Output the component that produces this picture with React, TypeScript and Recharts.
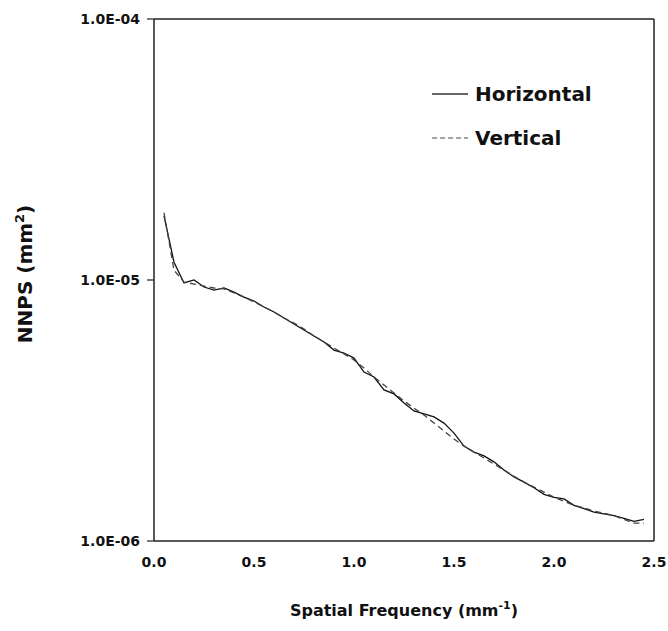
import {
  CartesianGrid,
  Label,
  Line,
  LineChart,
  ReferenceLine,
  XAxis,
  YAxis,
} from "recharts";

// spatial frequency (mm^-1)
const freq = [
  0.05, 0.1, 0.15, 0.2, 0.25, 0.3, 0.35, 0.4, 0.45, 0.5, 0.55, 0.6, 0.65, 0.7,
  0.75, 0.8, 0.85, 0.9, 0.95, 1.0, 1.05, 1.1, 1.15, 1.2, 1.25, 1.3, 1.35, 1.4,
  1.45, 1.5, 1.55, 1.6, 1.65, 1.7, 1.75, 1.8, 1.85, 1.9, 1.95, 2.0, 2.05, 2.1,
  2.15, 2.2, 2.25, 2.3, 2.35, 2.4, 2.45,
];

// NNPS (mm^2), horizontal direction
const horizontal = [
  1.76e-5, 1.17e-5, 9.74e-6, 1.0e-5, 9.4e-6, 9.15e-6, 9.32e-6, 8.99e-6, 8.6e-6,
  8.31e-6, 7.88e-6, 7.54e-6, 7.15e-6, 6.78e-6, 6.43e-6, 6.1e-6, 5.79e-6,
  5.39e-6, 5.25e-6, 5.02e-6, 4.44e-6, 4.25e-6, 3.79e-6, 3.66e-6, 3.38e-6,
  3.15e-6, 3.07e-6, 2.99e-6, 2.83e-6, 2.59e-6, 2.31e-6, 2.19e-6, 2.12e-6,
  2.01e-6, 1.87e-6, 1.76e-6, 1.68e-6, 1.6e-6, 1.51e-6, 1.47e-6, 1.45e-6,
  1.37e-6, 1.33e-6, 1.29e-6, 1.27e-6, 1.25e-6, 1.22e-6, 1.19e-6, 1.21e-6,
];

// NNPS (mm^2), vertical direction
const vertical = [
  1.81e-5, 1.09e-5, 9.82e-6, 9.65e-6, 9.48e-6, 9.32e-6, 9.24e-6, 8.92e-6,
  8.6e-6, 8.24e-6, 7.88e-6, 7.54e-6, 7.15e-6, 6.84e-6, 6.49e-6, 6.1e-6,
  5.79e-6, 5.49e-6, 5.21e-6, 4.94e-6, 4.6e-6, 4.25e-6, 3.96e-6, 3.69e-6,
  3.44e-6, 3.23e-6, 3.04e-6, 2.83e-6, 2.64e-6, 2.46e-6, 2.31e-6, 2.19e-6,
  2.08e-6, 1.97e-6, 1.87e-6, 1.77e-6, 1.68e-6, 1.61e-6, 1.54e-6, 1.47e-6,
  1.42e-6, 1.37e-6, 1.34e-6, 1.3e-6, 1.28e-6, 1.25e-6, 1.21e-6, 1.17e-6,
  1.17e-6,
];

const xTicks = [0, 0.5, 1.0, 1.5, 2.0, 2.5];
const yTicks = [1e-6, 1e-5, 1e-4];

const FONT = "'DejaVu Sans', Verdana, sans-serif";
const AXIS = "#222";

const series = [
  { key: "horizontal", name: "Horizontal", stroke: "#111", dash: undefined, legendStroke: "#333" },
  { key: "vertical", name: "Vertical", stroke: "#444", dash: "6 4", legendStroke: "#888" },
];

const data = freq.map((f, i) => ({
  f,
  horizontal: horizontal[i],
  vertical: vertical[i],
}));

// 1e-5 -> "1.0E-05"
function sciLabel(v: number): string {
  const exp = Math.round(Math.log10(v));
  const sign = exp < 0 ? "-" : "+";
  return "1.0E" + sign + String(Math.abs(exp)).padStart(2, "0");
}

const tickStyle = { fontSize: 14, fontWeight: 700, fill: "#111", fontFamily: FONT };

export default function App() {
  return (
    <div style={{ position: "absolute", left: 0, top: 0, width: 668, height: 631, background: "#fff" }}>
      <LineChart
        width={668}
        height={631}
        data={data}
        margin={{ top: 19, right: 14, bottom: 0, left: 0 }}
      >
        <CartesianGrid stroke="none" />
        <XAxis
          dataKey="f"
          type="number"
          domain={[0, 2.5]}
          ticks={xTicks}
          tickFormatter={(v: number) => v.toFixed(1)}
          tick={tickStyle}
          tickLine={false}
          tickSize={0}
          tickMargin={16}
          height={90}
          axisLine={{ stroke: AXIS, strokeWidth: 1.5 }}
        >
          <Label
            content={() => (
              <text
                x={404}
                y={616}
                textAnchor="middle"
                fontFamily={FONT}
                fontWeight={700}
                fontSize={16}
                fill="#111"
              >
                Spatial Frequency (mm
                <tspan dy={-7} fontSize={11}>-1</tspan>
                <tspan dy={7}>)</tspan>
              </text>
            )}
          />
        </XAxis>
        <YAxis
          scale="log"
          type="number"
          domain={[1e-6, 1e-4]}
          ticks={yTicks}
          allowDataOverflow
          tickFormatter={sciLabel}
          tick={tickStyle}
          tickSize={7}
          tickMargin={7}
          tickLine={{ stroke: AXIS, strokeWidth: 1.2 }}
          width={154}
          axisLine={{ stroke: AXIS, strokeWidth: 1.5 }}
        >
          <Label
            content={() => (
              <text
                x={0}
                y={0}
                transform="translate(32 274) rotate(-90)"
                textAnchor="middle"
                fontFamily={FONT}
                fontWeight={700}
                fontSize={20}
                fill="#111"
              >
                NNPS (mm
                <tspan dy={-8} fontSize={13}>2</tspan>
                <tspan dy={8}>)</tspan>
              </text>
            )}
          />
        </YAxis>
        <ReferenceLine x={2.5} stroke={AXIS} strokeWidth={1.5} />
        <ReferenceLine y={1e-4} stroke={AXIS} strokeWidth={1.5} />
        {series.map((s) => (
          <Line
            key={s.key}
            dataKey={s.key}
            name={s.name}
            stroke={s.stroke}
            strokeWidth={1.3}
            strokeDasharray={s.dash}
            dot={false}
            type="linear"
            isAnimationActive={false}
          />
        ))}
      </LineChart>
      <svg
        width={240}
        height={80}
        style={{ position: "absolute", left: 425, top: 75, pointerEvents: "none" }}
      >
        {series.map((s, i) => (
          <g key={s.key} transform={`translate(0 ${19 + i * 44})`}>
            <line
              x1={7}
              x2={43}
              y1={0}
              y2={0}
              stroke={s.legendStroke}
              strokeWidth={1.3}
              strokeDasharray={s.dash ? "5 3" : undefined}
            />
            <text
              x={50}
              y={7}
              fontFamily={FONT}
              fontWeight={700}
              fontSize={20}
              fill="#111"
            >
              {s.name}
            </text>
          </g>
        ))}
      </svg>
    </div>
  );
}
